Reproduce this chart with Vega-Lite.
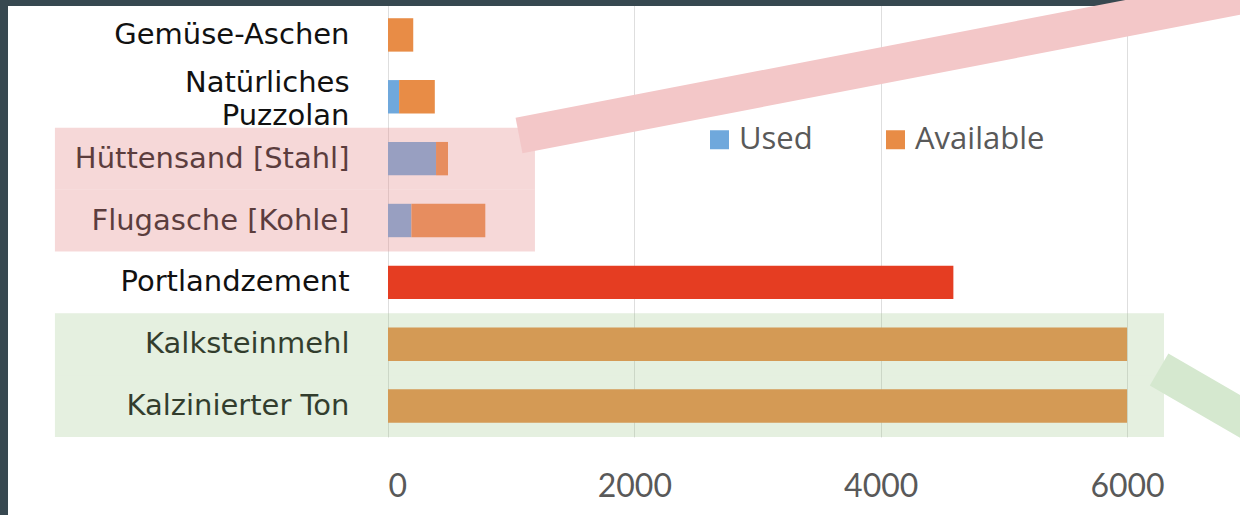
{
  "$schema": "https://vega.github.io/schema/vega-lite/v6.json",
  "autosize": "none",
  "width": 776,
  "height": 433,
  "padding": {"left": 388, "top": 4, "right": 76, "bottom": 78},
  "background": "#ffffff",
  "config": {"view": {"stroke": null}},
  "datasets": {
    "bars": [
      {"cat": "Gemüse-Aschen", "type": "Available", "value": 205},
      {"cat": "Natürliches Puzzolan", "type": "Used", "value": 90},
      {"cat": "Natürliches Puzzolan", "type": "Available", "value": 290},
      {"cat": "Hüttensand [Stahl]", "type": "Used", "value": 390},
      {"cat": "Hüttensand [Stahl]", "type": "Available", "value": 97},
      {"cat": "Flugasche [Kohle]", "type": "Used", "value": 190},
      {"cat": "Flugasche [Kohle]", "type": "Available", "value": 600},
      {"cat": "Portlandzement", "type": "Portlandzement", "value": 4590},
      {"cat": "Kalksteinmehl", "type": "Available", "value": 6000},
      {"cat": "Kalzinierter Ton", "type": "Available", "value": 6000}
    ],
    "pinkBand": [
      {"cat": "Hüttensand [Stahl]", "x0": -2704, "x1": 1193},
      {"cat": "Flugasche [Kohle]", "x0": -2704, "x1": 1193}
    ],
    "greenBand": [
      {"cat": "Kalksteinmehl", "x0": -2704, "x1": 6300},
      {"cat": "Kalzinierter Ton", "x0": -2704, "x1": 6300}
    ],
    "border": [
      {"x0": -3200, "x1": 7600, "y0": -10, "y1": 2},
      {"x0": -3200, "x1": -3085, "y0": -10, "y1": 520}
    ],
    "pinkStroke": [{"x0": 1063.6, "y0": 131.5, "x1": 7404, "y1": -19.2}],
    "greenStroke": [{"x0": 6260, "y0": 365.5, "x1": 7404, "y1": 447.3}]
  },
  "resolve": {"scale": {"y": "independent"}, "axis": {"y": "independent"}},
  "layer": [
    {
      "layer": [
        {
          "data": {"name": "bars"},
          "mark": {"type": "bar", "height": {"band": 0.54}},
          "encoding": {
            "y": {
              "field": "cat",
              "type": "nominal",
              "sort": ["Gemüse-Aschen", "Natürliches Puzzolan", "Hüttensand [Stahl]", "Flugasche [Kohle]", "Portlandzement", "Kalksteinmehl", "Kalzinierter Ton"],
              "scale": {"domain": ["Gemüse-Aschen", "Natürliches Puzzolan", "Hüttensand [Stahl]", "Flugasche [Kohle]", "Portlandzement", "Kalksteinmehl", "Kalzinierter Ton"], "paddingInner": 0, "paddingOuter": 0},
              "axis": {
                "title": null,
                "domain": false,
                "ticks": false,
                "labelPadding": 39,
                "labelFont": "DejaVu Sans",
                "labelFontSize": 29,
                "labelColor": "#111111",
                "labelLineHeight": 33,
                "labelLimit": 400,
                "labelOffset": {"condition": {"test": "datum.value == 'Natürliches Puzzolan'", "value": -14}, "value": 0},
                "labelExpr": "datum.value == 'Natürliches Puzzolan' ? ['Natürliches', 'Puzzolan'] : datum.value"
              }
            },
            "x": {
              "field": "value",
              "type": "quantitative",
              "stack": "zero",
              "scale": {"domain": [0, 6300], "nice": false, "zero": false},
              "axis": {
                "title": null,
                "domain": false,
                "ticks": false,
                "grid": true,
                "gridColor": "#dedede",
                "values": [0, 2000, 4000, 6000],
                "labelFont": "Lato",
                "labelFontSize": 32,
                "labelColor": "#595959",
                "labelPadding": 34,
                "format": "d"
              }
            },
            "order": {"field": "type", "sort": "descending"},
            "color": {
              "field": "type",
              "type": "nominal",
              "scale": {"domain": ["Used", "Available", "Portlandzement"], "range": ["#6fa8dc", "#e88c46", "#e53d22"]},
              "legend": {
                "values": ["Used", "Available"],
                "title": null,
                "orient": "none",
                "legendX": 316,
                "legendY": 120,
                "direction": "horizontal",
                "symbolType": "square",
                "symbolSize": 361,
                "symbolOpacity": 1,
                "symbolStrokeWidth": 0,
                "labelFont": "Open Sans",
                "labelFontSize": 31,
                "labelColor": "#595959",
                "labelOffset": 4,
                "columnPadding": 67
              }
            }
          }
        },
        {
          "data": {"name": "pinkBand"},
          "mark": {"type": "rect", "fill": "#e59090", "opacity": 0.35},
          "encoding": {
            "y": {"field": "cat", "type": "nominal"},
            "x": {"field": "x0", "type": "quantitative"},
            "x2": {"field": "x1"}
          }
        },
        {
          "data": {"name": "greenBand"},
          "mark": {"type": "rect", "fill": "#97c383", "opacity": 0.25},
          "encoding": {
            "y": {"field": "cat", "type": "nominal"},
            "x": {"field": "x0", "type": "quantitative"},
            "x2": {"field": "x1"}
          }
        }
      ]
    },
    {
      "data": {"name": "border"},
      "mark": {"type": "rect", "fill": "#374850"},
      "encoding": {
        "x": {"field": "x0", "type": "quantitative"},
        "x2": {"field": "x1"},
        "y": {"field": "y0", "type": "quantitative", "scale": {"domain": [0, 433], "reverse": true, "nice": false, "zero": false}, "axis": null},
        "y2": {"field": "y1"}
      }
    },
    {
      "data": {"name": "pinkStroke"},
      "mark": {"type": "rule", "stroke": "#f3c7c8", "strokeWidth": 36.3, "strokeCap": "butt"},
      "encoding": {
        "x": {"field": "x0", "type": "quantitative"},
        "x2": {"field": "x1"},
        "y": {"field": "y0", "type": "quantitative", "scale": {"domain": [0, 433], "reverse": true, "nice": false, "zero": false}, "axis": null},
        "y2": {"field": "y1"}
      }
    },
    {
      "data": {"name": "greenStroke"},
      "mark": {"type": "rule", "stroke": "#d5e8cf", "strokeWidth": 37, "strokeCap": "butt"},
      "encoding": {
        "x": {"field": "x0", "type": "quantitative"},
        "x2": {"field": "x1"},
        "y": {"field": "y0", "type": "quantitative", "scale": {"domain": [0, 433], "reverse": true, "nice": false, "zero": false}, "axis": null},
        "y2": {"field": "y1"}
      }
    }
  ]
}
